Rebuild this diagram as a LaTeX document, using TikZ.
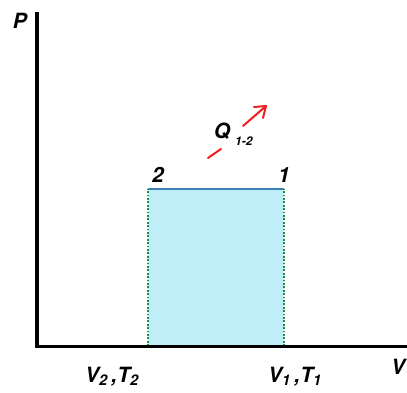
\documentclass[tikz,border=0pt]{standalone}
\usepackage{fontspec}
\setmainfont{TeX Gyre Heros}
\begin{document}
\begin{tikzpicture}[x=1pt,y=-1pt,
  lbl/.style={font=\fontsize{21}{23}\selectfont\bfseries\itshape, inner sep=0pt},
  sublbl/.style={font=\fontsize{12}{13}\selectfont\bfseries\itshape, inner sep=0pt}]
\useasboundingbox (0,0) rectangle (407,392);
\definecolor{fillc}{HTML}{C0EEF8}
\definecolor{topc}{HTML}{3C7FB4}
\definecolor{sidec}{HTML}{1E8C3C}
\definecolor{redc}{HTML}{F01E1E}
% region
\coordinate (A) at (148,346);
\coordinate (B) at (148,189);
\coordinate (C) at (284,189);
\coordinate (D) at (284,346);
\fill[fillc] (A) rectangle (C);
\draw[topc, line width=2.2pt] (B) -- (C);
\draw[sidec, line width=2.3pt, dash pattern=on 1.8pt off 1.6pt] (A) -- (B);
\draw[sidec, line width=2.3pt, dash pattern=on 1.8pt off 1.6pt] (D) -- (C);
% axes
\coordinate (O) at (37,346);
\coordinate (Ptop) at (37,12);
\coordinate (Vend) at (407,346);
\draw[line width=3.5pt] (Ptop) -- (O);
\draw[line width=3pt] (35.25,346) -- (Vend);
% labels
\node[lbl] (P) at (20,21) {P};
\node[lbl, anchor=base] (two) at (158,182) {2};
\node[lbl, anchor=base] (one) at (284,182) {1};
\node[lbl] (Q) at (222,131) {Q};
\node[sublbl, anchor=west] (Qs) at (235,141) {1-2};
\node[lbl, anchor=base] (v2) at (112,382) {V\textsubscript{2}\,,T\textsubscript{2}};
\node[lbl, anchor=base] (v1) at (295,382) {V\textsubscript{1}\,,T\textsubscript{1}};
\node[lbl, anchor=base west] (V) at (391,374) {V};
% heat arrow
\coordinate (h1) at (208,158);
\coordinate (h2) at (221,149);
\coordinate (h3) at (243,126);
\coordinate (h4) at (266,106);
\draw[redc, line width=2pt, line cap=round] (h1) -- (h2);
\draw[redc, line width=2pt, line cap=round] (h3) -- (h4);
\draw[redc, line width=2pt, line cap=round, line join=round] (254,107) -- (h4) -- (263,118);
\end{tikzpicture}
\end{document}
